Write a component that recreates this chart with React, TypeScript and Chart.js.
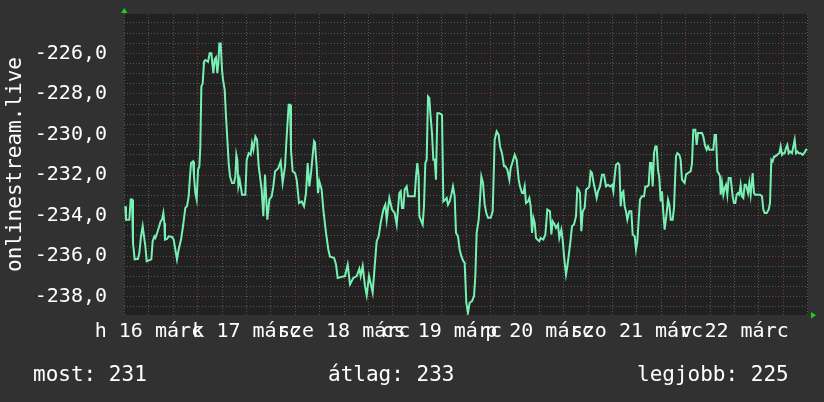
import React, { useEffect, useRef } from "react";
import { Chart, registerables } from "chart.js";

Chart.register(...registerables);

// x values are hours since 16 March 00:00
const dayLabels = ["h 16 márc", "k 17 márc", "sze 18 márc", "cs 19 márc", "p 20 márc", "szo 21 márc", "v 22 márc"];
const axisTitle = "onlinestream.live";
const legendLabels = ["most", "átlag", "legjobb"];
const legendValues = [231, 233, 225];

const xMin = 5.88;
const xMax = 174.06;
const yMin = -238.9;
const yMax = -224.06;

const readings: [number, number][] = [
  [6.2, -233.54], [6.37, -234.2], [7.19, -234.2], [7.52, -233.21], [7.85, -233.21], [8.09, -235.34], [8.5, -236.16], [9.32, -236.13], [9.65, -235.84], [10.06, -235.02],
  [10.47, -234.52], [10.8, -235.02], [11.13, -235.51], [11.46, -236.25], [12.6, -236.16], [12.93, -235.26], [13.34, -235.02], [13.59, -235.1], [13.91, -234.93], [14.41, -234.61],
  [14.9, -234.28], [15.23, -234.2], [15.55, -233.87], [15.8, -234.36], [15.96, -235.18], [16.46, -235.15], [16.87, -235.02], [17.69, -235.05], [18.09, -235.18], [18.5, -235.67],
  [18.91, -236.16], [19.32, -235.67], [19.9, -235.18], [20.39, -234.52], [20.96, -233.62], [21.37, -233.54], [21.78, -233.05], [22.11, -232.07], [22.36, -231.41], [22.85, -231.33],
  [23.09, -232.07], [23.42, -232.89], [23.75, -233.21], [24.08, -231.74], [24.41, -231.57], [24.65, -230.59], [24.9, -227.64], [25.23, -227.48], [25.55, -226.41], [25.88, -226.33],
  [26.54, -226.41], [26.95, -226.0], [27.36, -226.0], [27.6, -226.49], [27.85, -226.98], [28.18, -226.3], [28.5, -226.2], [28.83, -226.98], [29.08, -226.49], [29.32, -225.51],
  [29.65, -225.51], [29.98, -226.82], [30.23, -227.31], [30.64, -227.8], [30.96, -229.11], [31.29, -230.26], [31.62, -231.41], [31.95, -232.07], [32.44, -232.39], [32.93, -232.39],
  [33.26, -232.07], [33.5, -231.0], [33.75, -231.25], [34.0, -232.56], [34.32, -232.23], [34.65, -232.64], [34.9, -232.97], [35.72, -232.97], [36.05, -231.25], [36.54, -230.92],
  [37.03, -231.0], [37.36, -230.43], [37.69, -230.75], [38.18, -230.1], [38.59, -230.26], [39.0, -231.57],
  [39.73, -232.72], [40.14, -234.03], [40.55, -231.98], [41.12, -234.2], [41.62, -233.21], [42.19, -233.05], [42.6, -232.56], [43.01, -231.82], [43.83, -231.66], [44.4, -231.33],
  [44.89, -232.39], [45.47, -231.57], [45.88, -230.1], [46.37, -228.54], [46.7, -228.54], [46.94, -230.75], [47.35, -231.82], [47.93, -231.9], [48.34, -232.23], [48.91, -233.38],
  [49.57, -233.3], [50.14, -233.54], [50.63, -232.89], [51.04, -231.41], [51.45, -232.56], [51.86, -231.9], [52.6, -230.34], [52.84, -230.43], [53.25, -231.57], [53.58, -232.89],
  [53.91, -232.31], [54.48, -232.72], [54.89, -233.7], [55.55, -234.85], [56.12, -235.67], [56.53, -236.03], [57.52, -236.08], [58.01, -236.41], [58.42, -237.07], [59.4, -237.02],
  [60.22, -236.98], [60.88, -236.41], [61.45, -237.39], [62.27, -237.07], [63.09, -236.98], [63.75, -236.62], [64.07, -236.98], [64.57, -236.49], [65.14, -237.48], [65.55, -237.93],
  [66.12, -236.98], [67.02, -237.8], [67.52, -236.49], [68.01, -235.26], [68.5, -235.02], [68.99, -234.36], [69.65, -233.7], [70.14, -233.46], [70.47, -234.2], [71.12, -233.13],
  [71.78, -233.7], [72.43, -233.87], [72.93, -234.44], [73.58, -232.89],
  [73.91, -232.8], [74.23, -233.62], [74.56, -233.62], [74.89, -232.72], [75.38, -232.56], [75.71, -233.05], [77.35, -233.05], [77.68, -232.07], [78.0, -231.41], [78.33, -232.07],
  [78.5, -234.03], [78.99, -234.28], [79.32, -234.44], [79.64, -233.54], [79.97, -231.41], [80.3, -231.25], [80.63, -228.13], [80.95, -228.21], [81.2, -228.95], [81.61, -229.93],
  [81.94, -231.25], [82.27, -231.25], [82.59, -232.23], [82.92, -228.95], [83.41, -228.95], [84.07, -229.03], [84.4, -233.3], [84.89, -233.21], [85.22, -233.13], [85.54, -233.46],
  [85.95, -233.3], [86.36, -232.97], [86.77, -232.56], [87.18, -233.05], [87.51, -234.85], [88.0, -235.02], [88.41, -235.67], [88.82, -236.0], [89.32, -236.25], [89.64, -236.33],
  [90.05, -238.3], [90.46, -238.79], [90.87, -238.3], [91.45, -238.21], [91.94, -237.97], [92.27, -236.98], [92.59, -234.85], [93.09, -234.2], [93.41, -233.21], [93.74, -232.07],
  [94.15, -232.39], [94.56, -233.46], [94.97, -233.87], [95.38, -234.11], [96.04, -234.11], [96.53, -233.79], [97.02, -230.26], [97.51, -229.85], [98.0, -230.02], [98.33, -230.59],
  [98.82, -230.92], [99.32, -231.57], [99.64, -231.57], [100.14, -231.74], [100.63, -232.23], [100.95, -231.66], [101.45, -231.33], [101.94, -231.0], [102.43, -231.25], [102.92, -232.23],
  [103.25, -232.56], [103.74, -232.89], [104.07, -232.89], [104.4, -232.56], [104.72, -233.38], [105.22, -233.3], [105.55, -233.13], [105.87, -233.54], [106.2, -234.85], [106.53, -234.11],
  [106.86, -234.36], [107.18, -235.1], [107.51, -235.18],
  [108.0, -235.26], [108.33, -235.1], [108.98, -235.18], [109.48, -234.93], [109.97, -233.7], [110.62, -233.79], [110.95, -234.93], [111.28, -234.28], [111.77, -234.44], [112.1, -234.61],
  [112.59, -234.44], [112.92, -235.1], [113.41, -234.69], [113.74, -235.18], [114.07, -236.0], [114.56, -236.9], [114.89, -236.49], [115.21, -236.0], [115.7, -235.18], [116.03, -234.52],
  [116.52, -234.44], [117.02, -234.03], [117.34, -232.64], [117.67, -232.72], [118.0, -232.89], [118.33, -234.77], [118.66, -233.79], [119.15, -233.62], [119.48, -232.72], [119.97, -232.64],
  [120.3, -232.56], [120.62, -231.82], [120.95, -231.9], [121.28, -232.31], [121.77, -232.8], [122.1, -233.13], [122.43, -232.8], [122.92, -232.56], [123.41, -231.98], [123.9, -231.98],
  [124.39, -232.56], [124.89, -232.48], [125.38, -232.56], [125.87, -232.48], [126.2, -232.8], [126.52, -232.07], [126.85, -231.49], [127.34, -231.41], [127.67, -231.49], [128.0, -233.54],
  [128.33, -232.89], [128.66, -232.8], [128.98, -233.54], [129.31, -233.79], [129.64, -234.2], [130.13, -233.79], [130.62, -233.79], [130.95, -234.93], [131.44, -235.02], [131.77, -235.67],
  [132.1, -235.26], [132.43, -234.2], [132.75, -233.21], [133.25, -233.05], [133.74, -233.05], [134.07, -232.56], [134.56, -232.56], [134.89, -232.48], [135.21, -231.41], [135.54, -231.41],
  [135.87, -232.56], [136.2, -230.92], [136.52, -230.59], [136.85, -230.59], [137.18, -231.74], [137.51, -232.15], [137.84, -233.3], [138.16, -232.8], [138.49, -233.87], [138.82, -234.69],
  [139.31, -233.87], [139.64, -233.21], [139.97, -233.46], [140.3, -234.2], [140.79, -234.2], [141.11, -233.62],
  [141.6, -231.08], [141.93, -230.92], [142.42, -231.0], [142.75, -231.25], [143.08, -232.23], [143.41, -232.31], [143.73, -232.39], [144.06, -231.98], [144.55, -231.9], [145.21, -231.82],
  [145.54, -231.41], [145.86, -229.77], [146.36, -229.77], [146.68, -230.51], [147.01, -229.93], [147.5, -229.93], [147.99, -229.93], [148.32, -230.1], [148.81, -230.59], [149.14, -230.75],
  [149.47, -230.59], [149.8, -230.75], [150.78, -230.75], [151.11, -230.02], [151.44, -230.02], [151.77, -231.82], [152.09, -231.9], [152.42, -232.07], [152.59, -232.97], [152.91, -232.39],
  [153.24, -232.97], [153.57, -232.64], [153.9, -232.48], [154.22, -232.97], [154.55, -232.15], [155.04, -232.15], [155.54, -233.05], [155.86, -233.38], [156.19, -233.38], [156.52, -232.97],
  [156.85, -232.89], [157.18, -232.97], [157.5, -232.48], [157.83, -233.05], [158.16, -233.13], [158.49, -232.48], [158.81, -232.48], [159.31, -232.89], [159.63, -232.39], [159.96, -232.97],
  [160.45, -231.9], [160.78, -232.89], [161.11, -232.97], [162.26, -232.97], [162.75, -233.05], [163.08, -233.7], [163.41, -233.87], [163.9, -233.87], [164.39, -233.7], [164.72, -233.38],
  [165.04, -231.25], [165.37, -231.33], [165.7, -231.08], [166.03, -231.08], [166.52, -231.0], [167.01, -230.92], [167.34, -230.59], [167.67, -231.0], [167.99, -230.92], [168.32, -230.92],
  [168.65, -230.67], [168.98, -230.51], [169.31, -230.92], [169.63, -230.84], [170.13, -230.92], [170.45, -230.59], [170.78, -230.26], [171.11, -230.92], [171.44, -230.84], [171.77, -230.92],
  [172.26, -230.92], [172.75, -231.0], [173.24, -230.89], [173.57, -230.75], [173.9, -230.75],
];

const FONT = '"DejaVu Sans Mono", monospace';
const PAGE_BG = "#313131";
const PLOT_BG = "#212121";
const GRID_MINOR = "#575757";
const GRID_MAJOR = "#7a3b3b";
const LINE_COLOR = "#78f0b4";
const ARROW = "#19d419";

export default function App() {
  const ref = useRef<HTMLCanvasElement | null>(null);

  useEffect(() => {
    const deco = {
      id: "deco",
      beforeDraw(chart: any) {
        const { ctx, chartArea: a } = chart;
        ctx.save();
        ctx.fillStyle = PAGE_BG;
        ctx.fillRect(0, 0, chart.width, chart.height);
        ctx.fillStyle = PLOT_BG;
        ctx.fillRect(a.left, a.top, a.right - a.left, a.bottom - a.top);
        ctx.restore();
      },
      afterDraw(chart: any) {
        const { ctx, chartArea: a } = chart;
        ctx.save();
        ctx.fillStyle = ARROW;
        ctx.beginPath();
        ctx.moveTo(a.left - 3, a.top - 1);
        ctx.lineTo(a.left + 3.5, a.top - 1);
        ctx.lineTo(a.left + 0.25, a.top - 6);
        ctx.closePath();
        ctx.fill();
        ctx.beginPath();
        ctx.moveTo(a.right + 3, a.bottom - 3);
        ctx.lineTo(a.right + 3, a.bottom + 3.5);
        ctx.lineTo(a.right + 8, a.bottom + 0.25);
        ctx.closePath();
        ctx.fill();
        ctx.restore();
      },
    };

    const chart = new Chart(ref.current as HTMLCanvasElement, {
      type: "line",
      data: {
        datasets: [
          {
            data: readings.map(([x, y]) => ({ x, y })),
            borderColor: LINE_COLOR,
            borderWidth: 2,
            pointRadius: 0,
            tension: 0,
            fill: false,
          },
        ],
      },
      options: {
        animation: false,
        responsive: false,
        devicePixelRatio: 1,
        layout: { padding: { top: 14, right: 16, left: 0, bottom: 0 } },
        plugins: { legend: { display: false }, tooltip: { enabled: false } },
        scales: {
          x: {
            type: "linear",
            min: xMin,
            max: xMax,
            afterFit: (s: any) => {
              s.height = 87;
              s.paddingLeft = 0;
              s.paddingRight = 0;
              s.paddingTop = 0;
              s.paddingBottom = 0;
            },
            grid: {
              color: (c: any) => (c.tick && c.tick.value % 24 === 0 ? GRID_MAJOR : GRID_MINOR),
              lineWidth: 1,
              drawTicks: false,
            },
            border: { display: false, dash: [1, 2] },
            ticks: {
              stepSize: 6,
              autoSkip: false,
              maxRotation: 0,
              minRotation: 0,
              includeBounds: false,
              padding: 5,
              color: "#ffffff",
              font: { family: FONT, size: 20 },
              callback: (v: any) => {
                const n = Number(v);
                if (n % 24 !== 12) return "";
                return dayLabels[(n - 12) / 24] ?? "";
              },
            },
          },
          y: {
            type: "linear",
            min: yMin,
            max: yMax,
            afterFit: (s: any) => {
              s.width = 124;
              s.paddingLeft = 0;
              s.paddingRight = 0;
              s.paddingTop = 0;
              s.paddingBottom = 0;
            },
            grid: {
              color: (c: any) => (c.tick && c.tick.value % 2 === 0 ? GRID_MAJOR : GRID_MINOR),
              lineWidth: 1,
              drawTicks: false,
            },
            border: { display: false, dash: [1, 2] },
            ticks: {
              stepSize: 0.5,
              includeBounds: false,
              autoSkip: false,
              padding: 17,
              color: "#ffffff",
              font: { family: FONT, size: 20 },
              callback: (v: any) => {
                const n = Number(v);
                return n % 2 === 0 ? n.toFixed(1).replace(".", ",") : "";
              },
            },
            title: {
              display: true,
              text: axisTitle,
              color: "#ffffff",
              font: { family: FONT, size: 21 },
              padding: { top: 3, bottom: 0 },
            },
          },
        },
      },
      plugins: [deco],
    } as any);

    return () => chart.destroy();
  }, []);

  const legendLeft = [33, 328, 637];

  return (
    <div
      style={{
        position: "fixed",
        left: 0,
        top: 0,
        width: 824,
        height: 402,
        background: PAGE_BG,
        overflow: "hidden",
      }}
    >
      <canvas ref={ref} width={824} height={402} style={{ display: "block" }} />
      {legendLabels.map((lab, i) => (
        <span
          key={lab}
          style={{
            position: "absolute",
            left: legendLeft[i],
            top: 364,
            fontFamily: FONT,
            fontSize: 21,
            lineHeight: "21px",
            color: "#ffffff",
            whiteSpace: "pre",
          }}
        >
          {`${lab}: ${legendValues[i]}`}
        </span>
      ))}
    </div>
  );
}
